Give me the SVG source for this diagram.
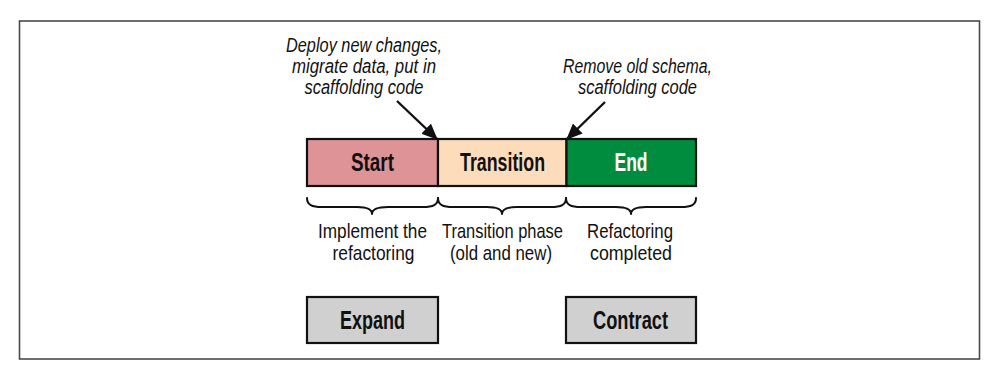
<svg xmlns="http://www.w3.org/2000/svg" width="992" height="374" viewBox="0 0 992 374">
  <defs>
    <marker id="arrowhead" markerWidth="16" markerHeight="14" refX="15" refY="7" orient="auto" markerUnits="userSpaceOnUse">
      <path d="M0,0 L16,7 L0,14 Z" fill="#111"/>
    </marker>
    <style>
      .frame { fill: #fff; stroke: #4a4a4a; stroke-width: 1.6; }
      .seg { stroke: #111; stroke-width: 2.2; }
      .box { fill: #d0d0d0; stroke: #111; stroke-width: 2.2; }
      .lbl { font-family: "Liberation Sans Narrow", "Liberation Sans", Arial, sans-serif; font-size: 25px; font-weight: bold; text-anchor: middle; fill: #111; }
      .cap { font-family: "Liberation Sans Narrow", "Liberation Sans", Arial, sans-serif; font-size: 21px; text-anchor: middle; fill: #111; }
      .note { font-family: "Liberation Sans Narrow", "Liberation Sans", Arial, sans-serif; font-size: 20px; font-style: italic; text-anchor: middle; fill: #111; }
      .brace { fill: none; stroke: #111; stroke-width: 2; stroke-linecap: round; stroke-linejoin: round; }
      .arrow { fill: none; stroke: #111; stroke-width: 2.4; }
    </style>
  </defs>

  <rect class="frame" x="19.5" y="21" width="960" height="338"/>

  <!-- timeline segments -->
  <g id="start">
    <rect class="seg" x="307" y="139" width="131" height="47" fill="#de9397"/>
    <text class="lbl" x="372.5" y="171" textLength="43" lengthAdjust="spacingAndGlyphs">Start</text>
  </g>
  <g id="transition">
    <rect class="seg" x="438" y="139" width="128.5" height="47" fill="#fddcbc"/>
    <text class="lbl" x="502.5" y="171" textLength="85" lengthAdjust="spacingAndGlyphs">Transition</text>
  </g>
  <g id="end">
    <rect class="seg" x="566.5" y="139" width="129.5" height="47" fill="#008c3e"/>
    <text class="lbl" x="631" y="171" textLength="33" lengthAdjust="spacingAndGlyphs" style="fill:#fff">End</text>
  </g>

  <!-- phase captions -->
  <g id="phase-start">
    <path class="brace" d="M307,198 C307,205 312,207 322,207 L357,207 C366,207 372,209 372,214 C372,209 378,207 388,207 L423,207 C433,207 438,205 438,198"/>
    <text class="cap" x="372.5" y="238" textLength="109" lengthAdjust="spacingAndGlyphs">Implement the</text>
    <text class="cap" x="373.5" y="260" textLength="82" lengthAdjust="spacingAndGlyphs">refactoring</text>
  </g>
  <g id="phase-transition">
    <path class="brace" d="M438,198 C438,205 443,207 453,207 L487,207 C496,207 502,209 502,214 C502,209 508,207 517,207 L551,207 C561,207 566,205 566,198"/>
    <text class="cap" x="502.5" y="238" textLength="121" lengthAdjust="spacingAndGlyphs">Transition phase</text>
    <text class="cap" x="501" y="260" textLength="102" lengthAdjust="spacingAndGlyphs">(old and new)</text>
  </g>
  <g id="phase-end">
    <path class="brace" d="M566,198 C566,205 571,207 581,207 L616,207 C625,207 631,209 631,214 C631,209 637,207 646,207 L681,207 C691,207 696,205 696,198"/>
    <text class="cap" x="630" y="238" textLength="86" lengthAdjust="spacingAndGlyphs">Refactoring</text>
    <text class="cap" x="631" y="260" textLength="82" lengthAdjust="spacingAndGlyphs">completed</text>
  </g>

  <!-- expand / contract -->
  <g id="expand">
    <rect class="box" x="307" y="297" width="131" height="46"/>
    <text class="lbl" x="372.5" y="329" textLength="65" lengthAdjust="spacingAndGlyphs">Expand</text>
  </g>
  <g id="contract">
    <rect class="box" x="566" y="297" width="130" height="46"/>
    <text class="lbl" x="630.5" y="329" textLength="75" lengthAdjust="spacingAndGlyphs">Contract</text>
  </g>

  <!-- annotations -->
  <g id="note-deploy">
    <text class="note" x="364" y="52" textLength="156" lengthAdjust="spacingAndGlyphs">Deploy new changes,</text>
    <text class="note" x="364" y="73" textLength="144" lengthAdjust="spacingAndGlyphs">migrate data, put in</text>
    <text class="note" x="364" y="94" textLength="119" lengthAdjust="spacingAndGlyphs">scaffolding code</text>
  </g>
  <g id="note-remove">
    <text class="note" x="637.5" y="73" textLength="149" lengthAdjust="spacingAndGlyphs">Remove old schema,</text>
    <text class="note" x="637.5" y="94" textLength="119" lengthAdjust="spacingAndGlyphs">scaffolding code</text>
  </g>

  <g id="connectors">
    <line class="arrow" x1="397" y1="101" x2="437" y2="139" marker-end="url(#arrowhead)"/>
    <line class="arrow" x1="605" y1="102" x2="567" y2="139" marker-end="url(#arrowhead)"/>
  </g>
</svg>
